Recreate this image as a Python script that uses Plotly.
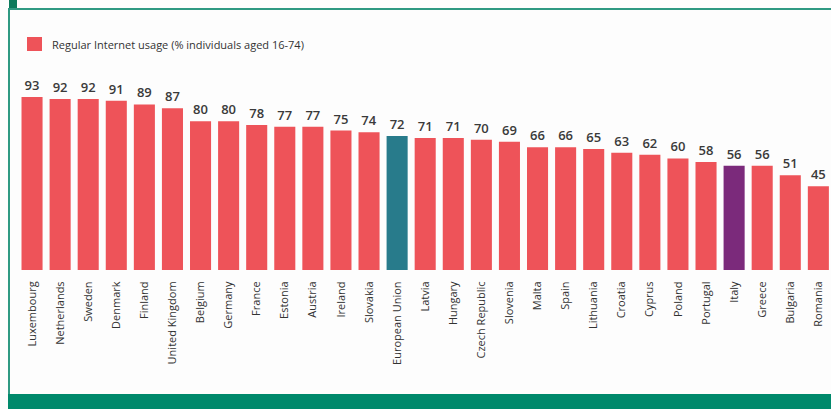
import plotly.graph_objects as go

countries = ["Luxembourg", "Netherlands", "Sweden", "Denmark", "Finland", "United Kingdom",
             "Belgium", "Germany", "France", "Estonia", "Austria", "Ireland", "Slovakia",
             "European Union", "Latvia", "Hungary", "Czech Republic", "Slovenia", "Malta",
             "Spain", "Lithuania", "Croatia", "Cyprus", "Poland", "Portugal", "Italy",
             "Greece", "Bulgaria", "Romania"]
values = [93, 92, 92, 91, 89, 87, 80, 80, 78, 77, 77, 75, 74, 72, 71, 71, 70, 69, 66, 66,
          65, 63, 62, 60, 58, 56, 56, 51, 45]
series_name = "Regular Internet usage (% individuals aged 16-74)"

RED = "#ee5359"
EU = "#287b8b"
IT = "#7b2a7b"
colors = [EU if c == "European Union" else IT if c == "Italy" else RED for c in countries]

W, H = 831, 409
L, R, T, B = 18, 0, 60, 139
PW, PH = W - L - R, H - T - B
def px(x):
    return (x - L) / PW
def py(y):
    return (H - B - y) / PH

fig = go.Figure()
fig.add_trace(go.Bar(
    x=countries, y=values, marker=dict(color=colors, line=dict(width=0)),
    name=series_name, showlegend=False,
    text=values, textposition="outside", cliponaxis=False,
    textfont=dict(family="Open Sans", size=13, color="#3a3a3a", weight=600),
))

shapes = [
    dict(type="rect", xref="paper", yref="paper", x0=px(8), x1=px(831), y0=py(409), y1=py(394),
         fillcolor="#00896b", line=dict(width=0), layer="below"),
    dict(type="rect", xref="paper", yref="paper", x0=px(8), x1=px(10), y0=py(394), y1=py(8),
         fillcolor="#2f9982", line=dict(width=0), layer="below"),
    dict(type="rect", xref="paper", yref="paper", x0=px(8), x1=px(831), y0=py(10), y1=py(8),
         fillcolor="#2f9982", line=dict(width=0), layer="below"),
    dict(type="rect", xref="paper", yref="paper", x0=px(9), x1=px(17), y0=py(8), y1=py(0),
         fillcolor="#0b7a5c", line=dict(width=0), layer="below"),
    # legend swatch
    dict(type="rect", xref="paper", yref="paper", x0=px(27), x1=px(42), y0=py(51), y1=py(37),
         fillcolor=RED, line=dict(width=0)),
]

annotations = [
    dict(text=series_name, xref="paper", yref="paper", x=px(50), y=py(44),
         xanchor="left", yanchor="middle", showarrow=False,
         font=dict(family="Open Sans", size=11, color="#333333")),
]

fig.update_layout(
    width=W, height=H,
    margin=dict(l=L, r=R, t=T, b=B),
    paper_bgcolor="#fdfdfd", plot_bgcolor="#fdfdfd",
    bargap=0.25,
    showlegend=False,
    xaxis=dict(range=[-0.5, 28.45], tickangle=-90, showgrid=False, showline=False,
               zeroline=False, ticks="outside", ticklen=6, tickcolor="rgba(0,0,0,0)",
               tickfont=dict(family="Open Sans", size=11, color="#333333")),
    yaxis=dict(range=[0, PH / 1.86], visible=False),
    shapes=shapes,
    annotations=annotations,
)

fig.write_html("out.html")
